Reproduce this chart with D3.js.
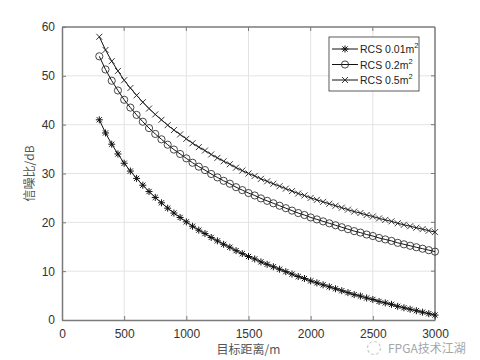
<!DOCTYPE html>
<html>
<head>
<meta charset="utf-8">
<script src="https://cdn.jsdelivr.net/npm/d3@7"></script>
<style>
  body { margin: 0; background: #fff; }
  svg text { font-family: "Liberation Sans", Arial, sans-serif; }
</style>
</head>
<body>
<div id="chart"></div>
<script>

var distance = [300,350,400,450,500,550,600,650,700,750,800,850,900,950,1000,
  1050,1100,1150,1200,1250,1300,1350,1400,1450,1500,1550,1600,1650,1700,1750,
  1800,1850,1900,1950,2000,2050,2100,2150,2200,2250,2300,2350,2400,2450,2500,
  2550,2600,2650,2700,2750,2800,2850,2900,2950,3000];

var snr001 = [41.0,38.3,36.0,34.0,32.1,30.5,29.0,27.6,26.3,25.1,24.0,22.9,21.9,21.0,20.1,
  19.2,18.4,17.7,16.9,16.2,15.5,14.9,14.2,13.6,13.0,12.5,11.9,11.4,10.9,10.4,
  9.9,9.4,8.9,8.5,8.0,7.6,7.2,6.8,6.4,6.0,5.6,5.2,4.9,4.5,4.2,
  3.8,3.5,3.2,2.8,2.5,2.2,1.9,1.6,1.3,1.0];

var snr02 = [54.0,51.3,49.0,47.0,45.1,43.5,42.0,40.6,39.3,38.1,37.0,35.9,34.9,34.0,33.1,
  32.2,31.4,30.7,29.9,29.2,28.5,27.9,27.2,26.6,26.0,25.5,24.9,24.4,23.9,23.4,
  22.9,22.4,21.9,21.5,21.0,20.6,20.2,19.8,19.4,19.0,18.6,18.2,17.9,17.5,17.2,
  16.8,16.5,16.2,15.8,15.5,15.2,14.9,14.6,14.3,14.0];

var snr05 = [58.0,55.3,53.0,51.0,49.1,47.5,46.0,44.6,43.3,42.1,41.0,39.9,38.9,38.0,37.1,
  36.2,35.4,34.7,33.9,33.2,32.5,31.9,31.2,30.6,30.0,29.5,28.9,28.4,27.9,27.4,
  26.9,26.4,25.9,25.5,25.0,24.6,24.2,23.8,23.4,23.0,22.6,22.2,21.9,21.5,21.2,
  20.8,20.5,20.2,19.8,19.5,19.2,18.9,18.6,18.3,18.0];

var legendLabels = ["RCS 0.01m", "RCS 0.2m", "RCS 0.5m"];
var xTicks = [0,500,1000,1500,2000,2500,3000];
var yTicks = [0,10,20,30,40,50,60];

var margin = { left: 62, right: 45, top: 27, bottom: 40 };
var W = 480, H = 360;
var width = W - margin.left - margin.right;
var height = H - margin.top - margin.bottom;

var SVG = d3.select("#chart").append("svg")
    .attr("width", W)
    .attr("height", H);

var svg = SVG.append("g")
    .attr("transform", "translate(" + margin.left + "," + margin.top + ")");

var x = d3.scaleLinear().domain([0, 3000]).range([0, width]);
var y = d3.scaleLinear().domain([0, 60]).range([height, 0]);

// grid
svg.selectAll(".vgrid").data(xTicks.slice(1, -1)).enter()
    .append("line")
    .attr("x1", function(d){ return x(d) }).attr("x2", function(d){ return x(d) })
    .attr("y1", 0).attr("y2", height)
    .attr("stroke", "#e3e3e3").attr("stroke-width", 1);
svg.selectAll(".hgrid").data(yTicks.slice(1, -1)).enter()
    .append("line")
    .attr("y1", function(d){ return y(d) }).attr("y2", function(d){ return y(d) })
    .attr("x1", 0).attr("x2", width)
    .attr("stroke", "#e3e3e3").attr("stroke-width", 1);

// axes
var xAxis = d3.axisBottom(x).tickValues(xTicks).tickFormat(d3.format("d"))
    .tickSizeInner(-4).tickSizeOuter(0).tickPadding(9);
var yAxis = d3.axisLeft(y).tickValues(yTicks).tickFormat(d3.format("d"))
    .tickSizeInner(-4).tickSizeOuter(0).tickPadding(7);

var gx = svg.append("g").attr("transform", "translate(0," + height + ")").call(xAxis);
var gy = svg.append("g").call(yAxis);
[gx, gy].forEach(function(g){
    g.select(".domain").attr("stroke", "#7a7a7a").attr("stroke-width", 1.5);
    g.selectAll(".tick line").attr("stroke", "#7a7a7a");
    g.selectAll(".tick text").attr("fill", "#333").style("font-size", "12px");
});

// box top/right
svg.append("line").attr("x1", 0).attr("x2", width).attr("y1", 0).attr("y2", 0)
    .attr("stroke", "#7a7a7a").attr("stroke-width", 1.5);
svg.append("line").attr("x1", width).attr("x2", width).attr("y1", 0).attr("y2", height)
    .attr("stroke", "#7a7a7a").attr("stroke-width", 1.5);
svg.selectAll(".ttick").data(xTicks.slice(1, -1)).enter().append("line")
    .attr("x1", function(d){ return x(d) }).attr("x2", function(d){ return x(d) })
    .attr("y1", 0).attr("y2", 4).attr("stroke", "#7a7a7a");
svg.selectAll(".rtick").data(yTicks.slice(1, -1)).enter().append("line")
    .attr("y1", function(d){ return y(d) }).attr("y2", function(d){ return y(d) })
    .attr("x1", width).attr("x2", width - 4).attr("stroke", "#7a7a7a");

// labels
svg.append("text")
    .attr("x", width / 2).attr("y", height + 34)
    .style("text-anchor", "middle").style("font-size", "12px")
    .style("font-family", "'Noto Sans CJK SC', sans-serif")
    .attr("fill", "#555")
    .text("目标距离/m");
svg.append("text")
    .attr("transform", "rotate(-90)")
    .attr("x", -height / 2).attr("y", -28)
    .style("text-anchor", "middle").style("font-size", "12px")
    .style("font-family", "'Noto Sans CJK SC', sans-serif")
    .attr("fill", "#555")
    .text("信噪比/dB");

// markers
function drawMarker(g, type) {
    if (type === "star") {
        g.append("path").attr("d", "M-3.5,0H3.5M0,-3.5V3.5M-2.6,-2.6L2.6,2.6M-2.6,2.6L2.6,-2.6")
            .attr("stroke", "#111").attr("stroke-width", 1).attr("fill", "none");
    } else if (type === "circle") {
        g.append("circle").attr("r", 3.6).attr("fill", "none")
            .attr("stroke", "#333").attr("stroke-width", 0.9);
    } else {
        g.append("path").attr("d", "M-3,-3L3,3M-3,3L3,-3")
            .attr("stroke", "#222").attr("stroke-width", 0.9).attr("fill", "none");
    }
}

var series = [
    { values: snr001, marker: "star" },
    { values: snr02, marker: "circle" },
    { values: snr05, marker: "cross" }
];

var line = d3.line()
    .x(function(d, i){ return x(distance[i]) })
    .y(function(d){ return y(d) });

series.forEach(function(s){
    svg.append("path")
        .attr("d", line(s.values))
        .attr("fill", "none").attr("stroke", "#111").attr("stroke-width", 1);
    s.values.forEach(function(v, i){
        var g = svg.append("g")
            .attr("transform", "translate(" + x(distance[i]) + "," + y(v) + ")");
        drawMarker(g, s.marker);
    });
});

// legend
var lg = SVG.append("g").attr("transform", "translate(329,37)");
lg.append("rect").attr("width", 90).attr("height", 54)
    .attr("fill", "#fff").attr("stroke", "#333").attr("stroke-width", 0.8);
legendLabels.forEach(function(t, i){
    var yy = 12 + i * 15.5;
    lg.append("line").attr("x1", 3).attr("x2", 29).attr("y1", yy).attr("y2", yy)
        .attr("stroke", "#111").attr("stroke-width", 1);
    var mg = lg.append("g").attr("transform", "translate(16," + yy + ")");
    drawMarker(mg, series[i].marker);
    var tx = lg.append("text").attr("x", 31).attr("y", yy + 4)
        .style("font-size", "10.5px").attr("fill", "#222");
    tx.append("tspan").text(t);
    tx.append("tspan").attr("dy", -5).style("font-size", "7.5px").text("2");
});

// watermark
var wm = SVG.append("g").attr("opacity", 0.75);
wm.append("circle").attr("cx", 374).attr("cy", 348).attr("r", 6.5)
    .attr("fill", "none").attr("stroke", "#bbb").attr("stroke-width", 1.2)
    .attr("stroke-dasharray", "3,2");
wm.append("text").attr("x", 388).attr("y", 353)
    .style("font-size", "12px").style("font-family", "'Noto Sans CJK SC', sans-serif")
    .attr("fill", "#888").text("FPGA技术江湖");

</script>
</body>
</html>
